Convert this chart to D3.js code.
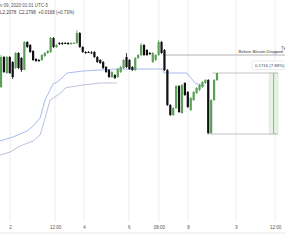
<!DOCTYPE html>
<html>
<head>
<meta charset="utf-8">
<script src="https://cdn.jsdelivr.net/npm/d3@7"></script>
<style>
  body { margin: 0; background: #fff; }
  svg { display: block; font-family: "Liberation Sans", Arial, sans-serif; }
</style>
</head>
<body>
<div id="chart"></div>
<script>
// OHLC per bar: [open, high, low, close]
const candles = [
  [2.3102, 2.4002, 2.3074, 2.3946],
  [2.3946, 2.3974, 2.3496, 2.3524],
  [2.3496, 2.3974, 2.3468, 2.3946],
  [2.3946, 2.3974, 2.3468, 2.3496],
  [2.3805, 2.3834, 2.3327, 2.3383],
  [2.3637, 2.4087, 2.3608, 2.4059],
  [2.4059, 2.4087, 2.3608, 2.3637],
  [2.3918, 2.3946, 2.3524, 2.3580],
  [2.3580, 2.4396, 2.3580, 2.4368],
  [2.4368, 2.4396, 2.4199, 2.4227],
  [2.4284, 2.4312, 2.4059, 2.4087],
  [2.4115, 2.4143, 2.3834, 2.3862],
  [2.3890, 2.3918, 2.3805, 2.3834],
  [2.3862, 2.3890, 2.3805, 2.3834],
  [2.3862, 2.4030, 2.3834, 2.4002],
  [2.3974, 2.4087, 2.3946, 2.4059],
  [2.4059, 2.4143, 2.4030, 2.4115],
  [2.4087, 2.4509, 2.4059, 2.4480],
  [2.4480, 2.4509, 2.4199, 2.4227],
  [2.4227, 2.4312, 2.4199, 2.4284],
  [2.4340, 2.4368, 2.4284, 2.4312],
  [2.4340, 2.4368, 2.4284, 2.4312],
  [2.4340, 2.4368, 2.4312, 2.4326],
  [2.4340, 2.4368, 2.4284, 2.4312],
  [2.4312, 2.4368, 2.4284, 2.4340],
  [2.4326, 2.4368, 2.4312, 2.4340],
  [2.4340, 2.4706, 2.4312, 2.4621],
  [2.4621, 2.4649, 2.4199, 2.4227],
  [2.4227, 2.4256, 2.4059, 2.4087],
  [2.4087, 2.4115, 2.4030, 2.4059],
  [2.4087, 2.4115, 2.4059, 2.4073],
  [2.4073, 2.4115, 2.4030, 2.4059],
  [2.4087, 2.4115, 2.3918, 2.3946],
  [2.3946, 2.3974, 2.3777, 2.3805],
  [2.3862, 2.3890, 2.3749, 2.3777],
  [2.3805, 2.3834, 2.3608, 2.3637],
  [2.3665, 2.3693, 2.3496, 2.3524],
  [2.3580, 2.3608, 2.3355, 2.3383],
  [2.3383, 2.3552, 2.3355, 2.3524],
  [2.3440, 2.3468, 2.3327, 2.3355],
  [2.3383, 2.3637, 2.3355, 2.3608],
  [2.3524, 2.3693, 2.3496, 2.3665],
  [2.3637, 2.3890, 2.3608, 2.3862],
  [2.3946, 2.4059, 2.3637, 2.3665],
  [2.3862, 2.3890, 2.3580, 2.3608],
  [2.3665, 2.3693, 2.3552, 2.3580],
  [2.3580, 2.3946, 2.3552, 2.3918],
  [2.3918, 2.4030, 2.3890, 2.4002],
  [2.4002, 2.4340, 2.3974, 2.4284],
  [2.4284, 2.4312, 2.3974, 2.4002],
  [2.4143, 2.4171, 2.3974, 2.4002],
  [2.4059, 2.4087, 2.4002, 2.4030],
  [2.3805, 2.4087, 2.3777, 2.4059],
  [2.3862, 2.4030, 2.3834, 2.4002],
  [2.4002, 2.4424, 2.3974, 2.4368],
  [2.4368, 2.4396, 2.4030, 2.4059],
  [2.4143, 2.4171, 2.3552, 2.3580],
  [2.3580, 2.3608, 2.2568, 2.2596],
  [2.2596, 2.2624, 2.2286, 2.2314],
  [2.2314, 2.2540, 2.2286, 2.2511],
  [2.2511, 2.3158, 2.2483, 2.3130],
  [2.3130, 2.3158, 2.2371, 2.2399],
  [2.2371, 2.3186, 2.2343, 2.3158],
  [2.3215, 2.3243, 2.2849, 2.2877],
  [2.2961, 2.2989, 2.2511, 2.2540],
  [2.2455, 2.2821, 2.2427, 2.2793],
  [2.2736, 2.2989, 2.2708, 2.2961],
  [2.2933, 2.3102, 2.2905, 2.3074],
  [2.3018, 2.3186, 2.2989, 2.3158],
  [2.3102, 2.3271, 2.3074, 2.3243],
  [2.3215, 2.3327, 2.3186, 2.3299],
  [2.3299, 2.3327, 2.1780, 2.1808],
  [2.1808, 2.2764, 2.1780, 2.2736],
  [2.2736, 2.3327, 2.2708, 2.3299],
  [2.3299, 2.3496, 2.3271, 2.3496]
];

// indicator bands: [bar, price]
const upperBand = [
  [-0.4, 2.1583], [4.1, 2.1696], [8.9, 2.1864], [11.0, 2.2005], [13.4, 2.2230],
  [15.1, 2.2736], [16.8, 2.3018], [17.8, 2.3186], [19.2, 2.3243], [20.9, 2.3355],
  [22.6, 2.3496], [28.1, 2.3552], [39.7, 2.3608], [55.5, 2.3608], [55.8, 2.3496],
  [63.7, 2.3496], [66.5, 2.3215], [69.9, 2.3130]
];
const lowerBand = [
  [-0.4, 2.1189], [3.1, 2.1274], [4.8, 2.1358], [6.5, 2.1442], [11.0, 2.1583],
  [13.4, 2.1752], [15.1, 2.2230], [16.8, 2.2736], [18.5, 2.2821], [20.9, 2.2961],
  [21.9, 2.3074], [23.6, 2.3102], [28.1, 2.3158], [33.9, 2.3215], [39.7, 2.3215]
];

// time axis ticks (bar positions) and labels
const tickBars = [3.1, 18.5, 28.4, 43.8, 54.1, 64.1, 80.5, 93.9];
const tickLabels = ["2", "12:00", "4", "6", "08:00", "8", "9", "12:00"];

// drawings
const beforeDropPrice = 2.4002;
const beforeDropStartBar = 55.5;
const rangeTop = 2.3496;
const rangeBottom = 2.1780;
const rangeBars = [91.9, 94.9];
const rangeLabel = "0.1716 (7.88%) 1";

const headerLine1 = "v 09, 2020 01:01 UTC-5";
const headerLine2 = "L2.2078  C2.2798  +0.0168 (+0.73%)";

const W = 285, H = 243;
const plotH = 222;

const svg = d3.select("#chart").append("svg")
    .attr("width", W)
    .attr("height", H);

const x = d3.scaleLinear().domain([0, 74]).range([1, 217]);
const y = d3.scaleLinear().domain([1.9305, 2.555]).range([plotH, 0]);

// vertical grid
svg.append("g")
    .selectAll("line")
    .data(tickBars)
    .enter()
    .append("line")
    .attr("x1", d => x(d)).attr("x2", d => x(d))
    .attr("y1", 0).attr("y2", plotH)
    .style("stroke", "#eeeeee")
    .style("stroke-width", 1);

// bottom axis
const xAxis = d3.axisBottom(x)
    .tickValues(tickBars)
    .tickSize(0)
    .tickFormat((d, i) => tickLabels[i]);

const axisG = svg.append("g")
    .attr("transform", `translate(0,${plotH + 3})`)
    .call(xAxis);
axisG.select(".domain").remove();
axisG.selectAll("text")
    .attr("dy", "0.3em")
    .attr("y", 3)
    .style("font-size", "4.5px")
    .style("fill", "#555");

svg.append("line")
    .attr("x1", 0).attr("x2", W)
    .attr("y1", 233).attr("y2", 233)
    .style("stroke", "#e6e6e6");

// bands
const bandLine = d3.line()
    .x(d => x(d[0]))
    .y(d => y(d[1]));

svg.append("path")
    .datum(upperBand)
    .attr("d", bandLine)
    .style("fill", "none")
    .style("stroke", "#9fb2ec")
    .style("stroke-width", 0.9);

svg.append("path")
    .datum(lowerBand)
    .attr("d", bandLine)
    .style("fill", "none")
    .style("stroke", "#b3bbd9")
    .style("stroke-width", 0.9);

// "Before Bitcoin Dropped" line
svg.append("line")
    .attr("x1", x(beforeDropStartBar)).attr("x2", W)
    .attr("y1", y(beforeDropPrice)).attr("y2", y(beforeDropPrice))
    .style("stroke", "#a8a8a8")
    .style("stroke-width", 0.9);

svg.append("text")
    .attr("x", 283).attr("y", y(beforeDropPrice) - 2)
    .attr("text-anchor", "end")
    .style("font-size", "4.3px")
    .style("fill", "#333")
    .text("Before Bitcoin Dropped");

svg.append("text")
    .attr("x", 281).attr("y", y(beforeDropPrice) - 6.5)
    .style("font-size", "4.3px")
    .style("fill", "#333")
    .text("Ty");

// price range drawing
svg.append("rect")
    .attr("x", x(rangeBars[0]))
    .attr("y", y(rangeTop))
    .attr("width", x(rangeBars[1]) - x(rangeBars[0]))
    .attr("height", y(rangeBottom) - y(rangeTop))
    .style("fill", "#e6f3e4")
    .style("stroke", "#cfe5cc")
    .style("stroke-width", 0.6);

const midX = (x(rangeBars[0]) + x(rangeBars[1])) / 2;
svg.append("line")
    .attr("x1", midX).attr("x2", midX)
    .attr("y1", y(rangeTop)).attr("y2", y(rangeBottom))
    .style("stroke", "#6fae6a")
    .style("stroke-width", 0.8);

svg.append("line")
    .attr("x1", x(72.5)).attr("x2", x(rangeBars[1]))
    .attr("y1", y(rangeTop)).attr("y2", y(rangeTop))
    .style("stroke", "#b5b5b5")
    .style("stroke-width", 0.8);

svg.append("line")
    .attr("x1", x(70.5)).attr("x2", x(rangeBars[1]))
    .attr("y1", y(rangeBottom)).attr("y2", y(rangeBottom))
    .style("stroke", "#b5b5b5")
    .style("stroke-width", 0.8);

svg.append("rect")
    .attr("x", 252).attr("y", y(rangeTop) - 12)
    .attr("width", 40).attr("height", 8.5)
    .attr("rx", 1)
    .style("fill", "#fff")
    .style("stroke", "#e0e0e0")
    .style("stroke-width", 0.6);

svg.append("text")
    .attr("x", 255).attr("y", y(rangeTop) - 6.3)
    .style("font-size", "4.3px")
    .style("fill", "#444")
    .text(rangeLabel);

// candles
const bodyW = 2.2;
const candleG = svg.append("g");

candleG.selectAll("line")
    .data(candles)
    .enter()
    .append("line")
    .attr("x1", (d, i) => x(i)).attr("x2", (d, i) => x(i))
    .attr("y1", d => y(d[1])).attr("y2", d => y(d[2]))
    .style("stroke", d => d[3] >= d[0] ? "#5b9f58" : "#111")
    .style("stroke-width", 0.8);

candleG.selectAll("rect")
    .data(candles)
    .enter()
    .append("rect")
    .attr("x", (d, i) => x(i) - bodyW / 2)
    .attr("y", d => y(Math.max(d[0], d[3])))
    .attr("width", bodyW)
    .attr("height", d => Math.max(1, Math.abs(y(d[0]) - y(d[3]))))
    .style("fill", d => d[3] >= d[0] ? "#5b9f58" : "#111");

// header
svg.append("text")
    .attr("x", 0).attr("y", 6.5)
    .style("font-size", "4.5px")
    .style("fill", "#555")
    .text(headerLine1);

svg.append("text")
    .attr("x", 0).attr("y", 13.5)
    .style("font-size", "4.5px")
    .style("fill", "#444")
    .attr("xml:space", "preserve")
    .style("white-space", "pre")
    .text(headerLine2);
</script>
</body>
</html>
